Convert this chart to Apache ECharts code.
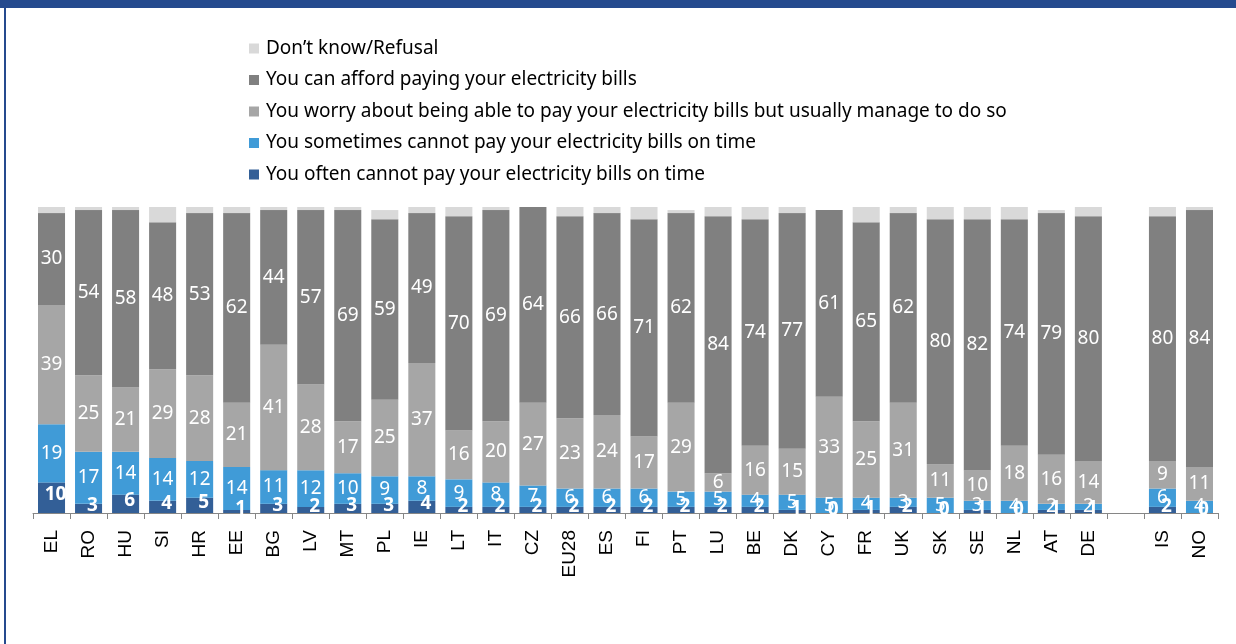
<!DOCTYPE html>
<html>
<head>
<meta charset="utf-8">
<script src="https://cdn.jsdelivr.net/npm/echarts@6/dist/echarts.min.js"></script>
<style>
  html, body { margin: 0; padding: 0; background: #fff; }
  #chart { width: 1236px; height: 644px; }
</style>
</head>
<body>
<div id="chart"></div>
<script>
// countries (empty slot keeps the gap between DE and IS)
const countries = ['EL', 'RO', 'HU', 'SI', 'HR', 'EE', 'BG', 'LV', 'MT', 'PL', 'IE', 'LT', 'IT', 'CZ', 'EU28', 'ES',
  'FI', 'PT', 'LU', 'BE', 'DK', 'CY', 'FR', 'UK', 'SK', 'SE', 'NL', 'AT', 'DE', '', 'IS', 'NO'];

const often     = [10, 3, 6, 4, 5, 1, 3, 2, 3, 3, 4, 2, 2, 2, 2, 2, 2, 2, 2, 2, 1, 0, 1, 2, 0, 1, 0, 1, 1, null, 2, 0];
const sometimes = [19, 17, 14, 14, 12, 14, 11, 12, 10, 9, 8, 9, 8, 7, 6, 6, 6, 5, 5, 4, 5, 5, 4, 3, 5, 3, 4, 2, 2, null, 6, 4];
const worry     = [39, 25, 21, 29, 28, 21, 41, 28, 17, 25, 37, 16, 20, 27, 23, 24, 17, 29, 6, 16, 15, 33, 25, 31, 11, 10, 18, 16, 14, null, 9, 11];
const afford    = [30, 54, 58, 48, 53, 62, 44, 57, 69, 59, 49, 70, 69, 64, 66, 66, 71, 62, 84, 74, 77, 61, 65, 62, 80, 82, 74, 79, 80, null, 80, 84];
const dontKnow  = [2, 1, 1, 5, 2, 2, 1, 2, 1, 3, 2, 3, 2, 0, 3, 2, 5, 1, 3, 4, 3, 0, 6, 2, 4, 4, 4, 1, 4, null, 3, 1];

const names = [
  'You often cannot pay your electricity bills on time',
  'You sometimes cannot pay your electricity bills on time',
  'You worry about being able to pay your electricity bills but usually manage to do so',
  'You can afford paying your electricity bills',
  'Don\u2019t know/Refusal'
];
const colors = ['#335f97', '#409bd7', '#a6a6a6', '#808080', '#d9d9d9'];

const font = '"Noto Sans", "DejaVu Sans", sans-serif';

function barSeries(i, data, label) {
  return {
    name: names[i],
    type: 'bar',
    stack: 'total',
    barCategoryGap: '27%',
    itemStyle: { color: colors[i] },
    label: label,
    emphasis: { disabled: true },
    data: data
  };
}

const plainLabel = {
  show: true,
  position: 'inside',
  color: '#fff',
  fontFamily: font,
  fontSize: 19
};

const chart = echarts.init(document.getElementById('chart'), null, { renderer: 'canvas' });

chart.setOption({
  animation: false,
  backgroundColor: '#fff',
  graphic: [
    { type: 'rect', shape: { x: 0, y: 0, width: 1236, height: 8 }, style: { fill: '#254a8e' } },
    { type: 'rect', shape: { x: 4, y: 0, width: 2, height: 644 }, style: { fill: '#254a8e' } }
  ],
  legend: {
    orient: 'vertical',
    left: 244,
    top: 33,
    itemWidth: 10,
    itemHeight: 10,
    itemGap: 10.5,
    icon: 'rect',
    selectedMode: false,
    data: names.slice().reverse(),
    textStyle: {
      fontFamily: font,
      fontSize: 19,
      lineHeight: 21,
      color: '#000',
      padding: [0, 0, 0, 2]
    }
  },
  grid: { left: 33, right: 18, top: 207, bottom: 131 },
  xAxis: {
    type: 'category',
    data: countries,
    axisLine: { lineStyle: { color: '#868686' } },
    axisTick: { show: true, length: 6, lineStyle: { color: '#868686' } },
    axisLabel: {
      interval: 0,
      rotate: 90,
      margin: 17,
      color: '#000',
      fontFamily: '"Liberation Sans", Arial, sans-serif',
      fontSize: 19
    }
  },
  yAxis: {
    type: 'value',
    min: 0,
    max: 100,
    show: false
  },
  series: [
    barSeries(0, often, Object.assign({}, plainLabel, { fontWeight: 'bold', offset: [4, -3] })),
    barSeries(1, sometimes, plainLabel),
    barSeries(2, worry, plainLabel),
    barSeries(3, afford, plainLabel),
    barSeries(4, dontKnow, { show: false })
  ]
});
</script>
</body>
</html>
